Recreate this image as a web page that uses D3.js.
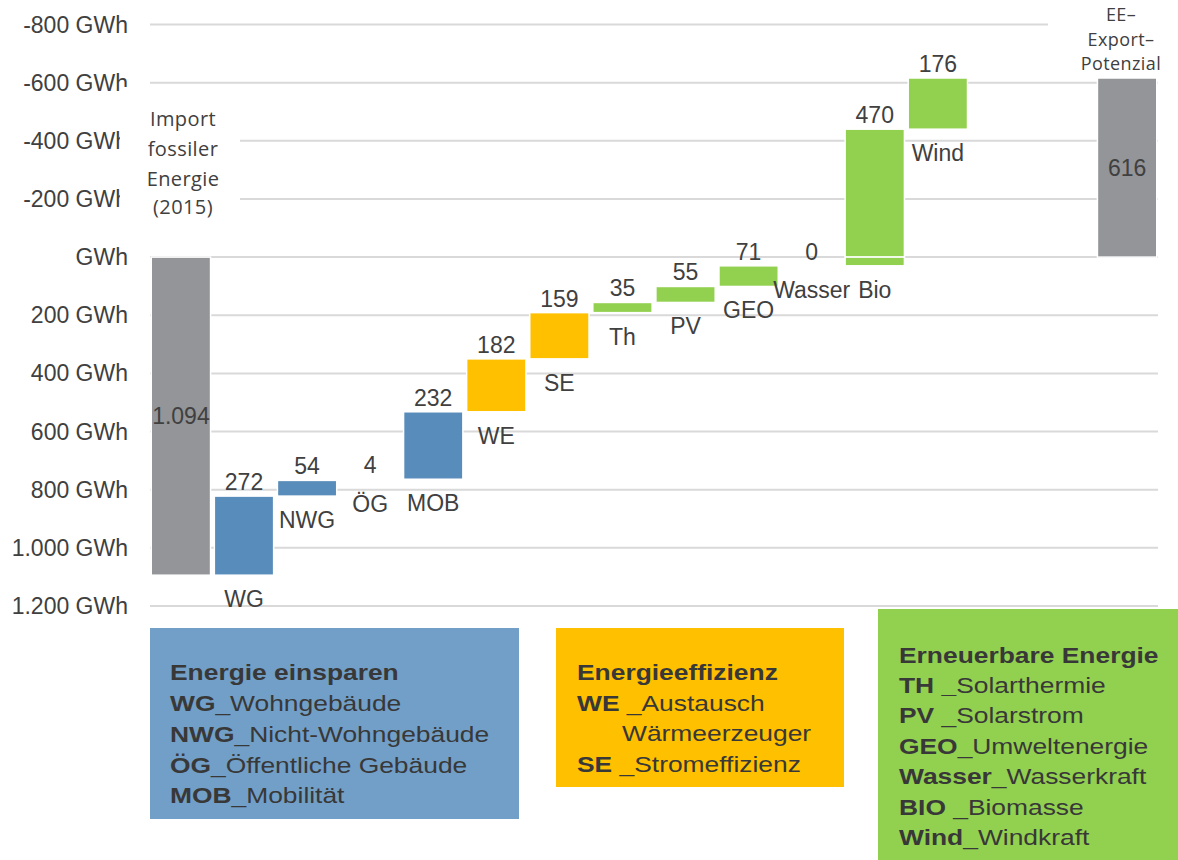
<!DOCTYPE html>
<html lang="de">
<head>
<meta charset="utf-8">
<title>Energiebilanz – Wasserfall</title>
<script src="https://cdn.jsdelivr.net/npm/d3@7/dist/d3.min.js"></script>
<style>
  html, body { margin: 0; padding: 0; background: #fff; }
  svg { display: block; }
</style>
</head>
<body>
<div id="chart"></div>
<script>
// ---- data ----------------------------------------------------------------
const importLabel = ["Import", "fossiler", "Energie", "(2015)"];
const exportLabel = ["EE–", "Export–", "Potenzial"];
const importTotal = 1094;   // GWh fossil import 2015
const exportTotal = 616;    // GWh renewable export potential

const steps      = ["WG", "NWG", "ÖG", "MOB", "WE", "SE", "Th", "PV", "GEO", "Wasser", "Bio", "Wind"];
const stepValues = [272, 54, 4, 232, 182, 159, 35, 55, 71, 0, 470, 176];
const stepGroups = ["spar", "spar", "spar", "spar", "eff", "eff", "ee", "ee", "ee", "ee", "ee", "ee"];

const yTicks = [-800, -600, -400, -200, 0, 200, 400, 600, 800, 1000, 1200];

const legendSpar = [["", "Energie einsparen"], ["WG", "_Wohngebäude"], ["NWG", "_Nicht-Wohngebäude"],
                    ["ÖG", "_Öffentliche Gebäude"], ["MOB", "_Mobilität"]];
const legendEff  = [["", "Energieeffizienz"], ["WE", " _Austausch"], ["", "Wärmeerzeuger"], ["SE", " _Stromeffizienz"]];
const legendEE   = [["", "Erneuerbare Energie"], ["TH _", "Solarthermie"], ["PV", " _Solarstrom"],
                    ["GEO", "_Umweltenergie"], ["Wasser", "_Wasserkraft"], ["BIO", " _Biomasse"], ["Wind", "_Windkraft"]];

// ---- styling -------------------------------------------------------------
const W = 1178, H = 860;
const colors = { total: "#939598", spar: "#588cba", eff: "#ffc000", ee: "#92d050" };
const boxColors = { spar: "#729fc7", eff: "#ffc000", ee: "#92d050" };
const textColor = "#404040";
const font = "'Liberation Sans', Arial, sans-serif";
const annoFont = "'Open Sans', 'Noto Sans', sans-serif";

const svg = d3.select("#chart").append("svg").attr("width", W).attr("height", H);

// slots: import total, each step, two empty slots, export total
const slots = ["__import", ...steps, "__s1", "__s2", "__export"];
const x = d3.scaleBand().domain(slots).range([150, 1158]).paddingInner(0.06).paddingOuter(0.02);
const y = d3.scaleLinear().domain([-800, 1200]).range([24.5, 606]);

const de = d3.formatLocale({ decimal: ",", thousands: ".", grouping: [3], currency: ["", " €"], minus: "-" });
const fmt = de.format(",d");

// running totals for the waterfall
let level = importTotal;
const bars = [{ key: "__import", from: 0, to: importTotal, color: colors.total, label: fmt(importTotal), inside: true }];
steps.forEach((s, i) => {
  const from = level, to = level - stepValues[i];
  bars.push({ key: s, from, to, color: colors[stepGroups[i]], label: fmt(stepValues[i]), name: s });
  level = to;
});
bars.push({ key: "__export", from: 0, to: -exportTotal, color: colors.total, label: fmt(exportTotal), inside: true });

// ---- gridlines -----------------------------------------------------------
svg.append("g").selectAll("line").data(yTicks).join("line")
  .attr("x1", 150).attr("x2", 1158)
  .attr("y1", d => y(d)).attr("y2", d => y(d))
  .attr("stroke", "#d9d9d9").attr("stroke-width", 2);

// ---- y axis labels -------------------------------------------------------
svg.append("g").selectAll("text").data(yTicks).join("text")
  .attr("x", 128).attr("y", d => y(d)).attr("dy", "0.35em")
  .attr("text-anchor", "end")
  .attr("font-family", font).attr("font-size", 23).attr("fill", textColor)
  .text(d => d === 0 ? "GWh" : fmt(d) + " GWh");

// ---- annotation boxes (white background over the grid) -------------------
svg.append("rect").attr("x", 120).attr("y", 87).attr("width", 120).attr("height", 140).attr("fill", "#fff");
svg.append("rect").attr("x", 1048).attr("y", 0).attr("width", 130).attr("height", 77).attr("fill", "#fff");

// ---- bars (split where a bar crosses zero) --------------------------------
const segs = [];
bars.forEach(b => {
  const lo = Math.min(b.from, b.to), hi = Math.max(b.from, b.to);
  if (lo < 0 && hi > 0) {
    segs.push({ ...b, lo, hi: 0 });
    segs.push({ ...b, lo: 0, hi });
  } else segs.push({ ...b, lo, hi });
});
svg.append("g").selectAll("rect").data(segs).join("rect")
  .attr("x", d => x(d.key)).attr("width", x.bandwidth())
  .attr("y", d => y(d.lo)).attr("height", d => Math.max(0, y(d.hi) - y(d.lo)))
  .attr("fill", d => d.color)
  .attr("stroke", "#fff").attr("stroke-width", 1.5);

// ---- value and category labels ------------------------------------------
const lbl = svg.append("g").attr("font-family", font).attr("font-size", 23).attr("fill", textColor)
  .attr("text-anchor", "middle");

bars.forEach(b => {
  const cx = x(b.key) + x.bandwidth() / 2;
  const top = y(Math.min(b.from, b.to)), bottom = y(Math.max(b.from, b.to));
  if (b.inside) {
    lbl.append("text").attr("x", cx).attr("y", (top + bottom) / 2).attr("dy", "0.35em").text(b.label);
  } else {
    lbl.append("text").attr("x", cx).attr("y", top - 6).text(b.label);
    lbl.append("text").attr("x", cx).attr("y", bottom + 32).text(b.name);
  }
});

// ---- annotation texts ----------------------------------------------------
const anno = svg.append("g").attr("font-family", annoFont)
  .attr("fill", textColor).attr("text-anchor", "middle").attr("letter-spacing", 0.4);
const importBase = [126, 156, 186, 214];
importLabel.forEach((t, i) => anno.append("text").attr("x", 183).attr("y", importBase[i])
  .attr("font-size", 20).text(t));
const exportBase = [21, 45.5, 70];
exportLabel.forEach((t, i) => anno.append("text").attr("x", 1121).attr("y", exportBase[i])
  .attr("font-size", 18).text(t));

// ---- legend boxes --------------------------------------------------------
function legendBox(rect, lines, color, textX, baselines, indents) {
  svg.append("rect").attr("x", rect[0]).attr("y", rect[1]).attr("width", rect[2]).attr("height", rect[3])
    .attr("fill", color);
  const g = svg.append("g").attr("transform", `translate(${textX},0) scale(1.2,1)`)
    .attr("font-family", font).attr("font-size", 22).attr("fill", "#383838");
  lines.forEach((ln, i) => {
    const t = g.append("text").attr("x", indents ? indents[i] : 0).attr("y", baselines[i]);
    if (i === 0) { t.attr("font-weight", "bold").text(ln[1]); return; }
    if (ln[0]) t.append("tspan").attr("font-weight", "bold").text(ln[0]);
    t.append("tspan").text(ln[1]);
  });
}
legendBox([150, 628, 369, 191], legendSpar, boxColors.spar, 170, [680, 711, 742, 773, 803]);
legendBox([556, 628, 288, 159], legendEff, boxColors.eff, 577, [680, 711, 741, 772], [0, 0, 37.5, 0]);
legendBox([878, 609, 300, 251], legendEE, boxColors.ee, 899, [663, 693, 723, 754, 784, 815, 845]);
</script>
</body>
</html>
